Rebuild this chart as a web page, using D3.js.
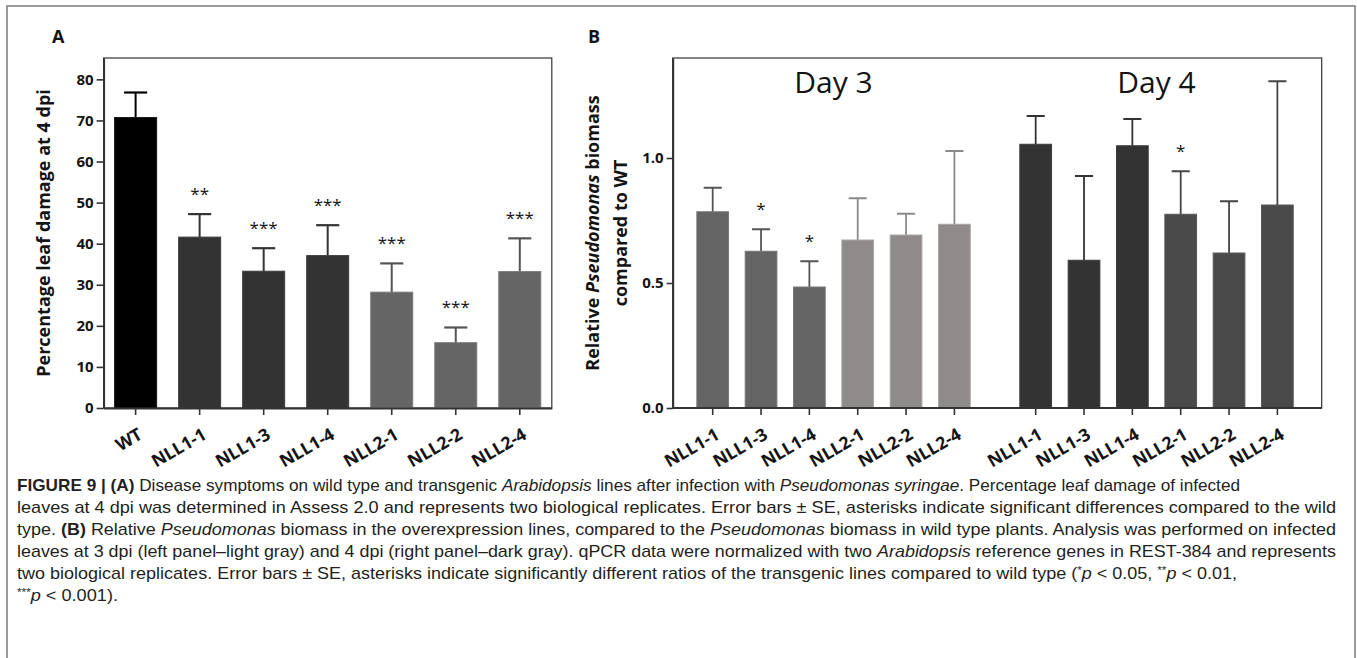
<!DOCTYPE html>
<html>
<head>
<meta charset="utf-8">
<script src="https://cdn.jsdelivr.net/npm/d3@7"></script>
<style>
  body { margin: 0; background: #fff; }
  svg { display: block; }
</style>
</head>
<body>
<svg id="fig" width="1357" height="658"></svg>
<script>
// ---- Panel A: percentage leaf damage at 4 dpi ----
const linesA = ["WT", "NLL1-1", "NLL1-3", "NLL1-4", "NLL2-1", "NLL2-2", "NLL2-4"];
const damageMean  = [70.7, 41.6, 33.3, 37.1, 28.2, 15.9, 33.2];
const damageUpper = [76.8, 47.2, 38.9, 44.5, 35.2, 19.6, 41.3];
const damageStars = ["", "**", "***", "***", "***", "***", "***"];
const damageTicks = [0, 10, 20, 30, 40, 50, 60, 70, 80];

// ---- Panel B: relative Pseudomonas biomass ----
const days = ["Day 3", "Day 4"];
const linesB = ["NLL1-1", "NLL1-3", "NLL1-4", "NLL2-1", "NLL2-2", "NLL2-4"];
const biomassDay3      = [0.785, 0.627, 0.484, 0.672, 0.692, 0.735];
const biomassDay3Upper = [0.881, 0.715, 0.587, 0.839, 0.777, 1.028];
const biomassDay3Stars = ["", "*", "*", "", "", ""];
const biomassDay4      = [1.055, 0.591, 1.049, 0.775, 0.620, 0.812];
const biomassDay4Upper = [1.168, 0.928, 1.156, 0.947, 0.827, 1.307];
const biomassDay4Stars = ["", "", "", "*", "", ""];
const biomassTicks = [0, 0.5, 1.0];

// ---- Caption ----
const captionLines = [
  [["FIGURE 9 | (A)", "b"], [" Disease symptoms on wild type and transgenic ", "r"], ["Arabidopsis", "i"],
   [" lines after infection with ", "r"], ["Pseudomonas syringae", "i"], [". Percentage leaf damage of infected", "r"]],
  [["leaves at 4 dpi was determined in Assess 2.0 and represents two biological replicates. Error bars \u00b1 SE, asterisks indicate significant differences compared to the wild", "r"]],
  [["type. ", "r"], ["(B)", "b"], [" Relative ", "r"], ["Pseudomonas", "i"],
   [" biomass in the overexpression lines, compared to the ", "r"], ["Pseudomonas", "i"],
   [" biomass in wild type plants. Analysis was performed on infected", "r"]],
  [["leaves at 3 dpi (left panel\u2013light gray) and 4 dpi (right panel\u2013dark gray). qPCR data were normalized with two ", "r"],
   ["Arabidopsis", "i"], [" reference genes in REST-384 and represents", "r"]],
  [["two biological replicates. Error bars \u00b1 SE, asterisks indicate significantly different ratios of the transgenic lines compared to wild type (", "r"],
   ["*", "sup"], ["p", "i"], [" < 0.05, ", "r"], ["**", "sup"], ["p", "i"], [" < 0.01,", "r"]],
  [["***", "sup"], ["p", "i"], [" < 0.001).", "r"]]
];
const captionWidths = [1223, 1319, 1319, 1319, 1220, 101];

const svg = d3.select("#fig");
const FONT = "'Open Sans', 'DejaVu Sans', sans-serif";
const INK = "#141414";

// outer figure border
svg.append("rect")
  .attr("x", 7).attr("y", 6).attr("width", 1348).attr("height", 720)
  .attr("fill", "none").attr("stroke", "#7a7a7a").attr("stroke-width", 1.5);

function styleAxis(g, size) {
  g.selectAll("text")
    .attr("font-family", FONT).attr("font-weight", 700)
    .attr("font-size", size).attr("fill", INK);
  g.selectAll(".tick line").attr("stroke", "#333").attr("stroke-width", 1.6);
  g.select(".domain").attr("stroke", "#333").attr("stroke-width", 2);
}

function rotateTickLabels(g) {
  g.selectAll(".tick text")
    .attr("x", 0).attr("y", 0).attr("dy", 0)
    .attr("text-anchor", "end")
    .attr("transform", "translate(8,30) rotate(-30)");
}

function outline(fill) {
  return fill === "#000000" ? "#111" : d3.color(fill).brighter(0.5).formatHex();
}

// ================= Panel A =================
const A = { left: 103.6, right: 551.8, top: 58, bottom: 408 };
const xA = d3.scaleBand().domain(linesA).range([A.left, A.right])
  .paddingInner(0.344).paddingOuter(0.172);
const yA = d3.scaleLinear().domain([0, 85.2]).range([A.bottom, A.top]);

const fillA = l => l === "WT" ? "#000000" : (l.startsWith("NLL1") ? "#333333" : "#656565");
const errA  = l => l === "WT" ? "#000000" : (l.startsWith("NLL1") ? "#333333" : "#555555");

svg.append("text").attr("x", 52).attr("y", 43)
  .attr("font-family", FONT).attr("font-weight", 700).attr("font-size", 18)
  .attr("fill", INK).text("A");

svg.append("rect")
  .attr("x", A.left).attr("y", A.top)
  .attr("width", A.right - A.left).attr("height", A.bottom - A.top)
  .attr("fill", "none").attr("stroke", "#333").attr("stroke-width", 1.2);

const dataA = linesA.map((l, i) => ({ line: l, v: damageMean[i], up: damageUpper[i], star: damageStars[i] }));
const gA = svg.append("g");
const capA = xA.bandwidth() * 0.55;

gA.selectAll("line.err").data(dataA).join("line")
  .attr("x1", d => xA(d.line) + xA.bandwidth() / 2).attr("x2", d => xA(d.line) + xA.bandwidth() / 2)
  .attr("y1", d => yA(d.v)).attr("y2", d => yA(d.up))
  .attr("stroke", d => errA(d.line)).attr("stroke-width", 2);
gA.selectAll("line.cap").data(dataA).join("line")
  .attr("x1", d => xA(d.line) + xA.bandwidth() / 2 - capA / 2)
  .attr("x2", d => xA(d.line) + xA.bandwidth() / 2 + capA / 2)
  .attr("y1", d => yA(d.up)).attr("y2", d => yA(d.up))
  .attr("stroke", d => errA(d.line)).attr("stroke-width", 2.2);
gA.selectAll("rect.bar").data(dataA).join("rect")
  .attr("x", d => xA(d.line)).attr("width", xA.bandwidth())
  .attr("y", d => yA(d.v)).attr("height", d => yA(0) - yA(d.v))
  .attr("fill", d => fillA(d.line))
  .attr("stroke", d => outline(fillA(d.line))).attr("stroke-width", 1);
gA.selectAll("text.star").data(dataA.filter(d => d.star)).join("text")
  .attr("x", d => xA(d.line) + xA.bandwidth() / 2).attr("y", d => yA(d.up) - 14)
  .attr("text-anchor", "middle").attr("font-family", FONT).attr("font-size", 17)
  .attr("fill", INK).text(d => d.star);

const yAxisA = svg.append("g").attr("transform", `translate(${A.left},0)`)
  .call(d3.axisLeft(yA).tickValues(damageTicks).tickSize(7).tickPadding(3).tickSizeOuter(0));
styleAxis(yAxisA, 15);
const xAxisA = svg.append("g").attr("transform", `translate(0,${A.bottom})`)
  .call(d3.axisBottom(xA).tickSize(7).tickSizeOuter(0));
styleAxis(xAxisA, 17.5);
rotateTickLabels(xAxisA);

svg.append("text")
  .attr("transform", `translate(50,${(A.top + A.bottom) / 2}) rotate(-90)`)
  .attr("text-anchor", "middle").attr("font-family", FONT).attr("font-weight", 700)
  .attr("font-size", 18).attr("fill", INK)
  .text("Percentage leaf damage at 4 dpi");

// ================= Panel B =================
const B = { left: 672.7, right: 1321.7, top: 58, bottom: 408 };
const xDay = d3.scaleBand().domain(days).range([B.left, B.right])
  .paddingInner(0.102).paddingOuter(0.0557).align(0.44);
const xB = d3.scaleBand().domain(linesB).range([0, xDay.bandwidth()])
  .paddingInner(0.344).paddingOuter(0.172);
const yB = d3.scaleLinear().domain([0, 1.4]).range([B.bottom, B.top]);

const fillB = {
  "Day 3": l => l.startsWith("NLL1") ? "#646464" : "#8e8b8a",
  "Day 4": l => l.startsWith("NLL1") ? "#333333" : "#4a4a4a"
};
const errB = {
  "Day 3": l => l.startsWith("NLL1") ? "#555555" : "#8a8a8a",
  "Day 4": l => l.startsWith("NLL1") ? "#333333" : "#444444"
};

svg.append("text").attr("x", 588).attr("y", 43)
  .attr("font-family", FONT).attr("font-weight", 700).attr("font-size", 18)
  .attr("fill", INK).text("B");

svg.append("rect")
  .attr("x", B.left).attr("y", B.top)
  .attr("width", B.right - B.left).attr("height", B.bottom - B.top)
  .attr("fill", "none").attr("stroke", "#333").attr("stroke-width", 1.2);

const seriesB = {
  "Day 3": { v: biomassDay3, up: biomassDay3Upper, star: biomassDay3Stars },
  "Day 4": { v: biomassDay4, up: biomassDay4Upper, star: biomassDay4Stars }
};
const capB = xB.bandwidth() * 0.57;

days.forEach(day => {
  const s = seriesB[day];
  const data = linesB.map((l, i) => ({ line: l, v: s.v[i], up: s.up[i], star: s.star[i] }));
  const g = svg.append("g").attr("transform", `translate(${xDay(day)},0)`);
  const cx = d => xB(d.line) + xB.bandwidth() / 2;

  g.selectAll("line.err").data(data).join("line")
    .attr("x1", cx).attr("x2", cx)
    .attr("y1", d => yB(d.v)).attr("y2", d => yB(d.up))
    .attr("stroke", d => errB[day](d.line)).attr("stroke-width", 1.8);
  g.selectAll("line.cap").data(data).join("line")
    .attr("x1", d => cx(d) - capB / 2).attr("x2", d => cx(d) + capB / 2)
    .attr("y1", d => yB(d.up)).attr("y2", d => yB(d.up))
    .attr("stroke", d => errB[day](d.line)).attr("stroke-width", 2);
  g.selectAll("rect.bar").data(data).join("rect")
    .attr("x", d => xB(d.line)).attr("width", xB.bandwidth())
    .attr("y", d => yB(d.v)).attr("height", d => yB(0) - yB(d.v))
    .attr("fill", d => fillB[day](d.line))
    .attr("stroke", d => outline(fillB[day](d.line))).attr("stroke-width", 1);
  g.selectAll("text.star").data(data.filter(d => d.star)).join("text")
    .attr("x", cx).attr("y", d => yB(d.up) - 14)
    .attr("text-anchor", "middle").attr("font-family", FONT).attr("font-size", 17)
    .attr("fill", INK).text(d => d.star);

  g.append("text")
    .attr("x", xDay.bandwidth() / 2).attr("y", 93)
    .attr("text-anchor", "middle").attr("font-family", FONT).attr("font-size", 30)
    .attr("fill", INK).text(day);

  const ax = g.append("g").attr("transform", `translate(0,${B.bottom})`)
    .call(d3.axisBottom(xB).tickSize(7).tickSizeOuter(0));
  styleAxis(ax, 17.5);
  ax.select(".domain").remove();
  rotateTickLabels(ax);
});

// bottom axis line spanning both day groups
svg.append("line")
  .attr("x1", B.left).attr("x2", B.right).attr("y1", B.bottom).attr("y2", B.bottom)
  .attr("stroke", "#333").attr("stroke-width", 2);

const yAxisB = svg.append("g").attr("transform", `translate(${B.left},0)`)
  .call(d3.axisLeft(yB).tickValues(biomassTicks).tickFormat(d3.format(".1f"))
    .tickSize(6).tickPadding(3).tickSizeOuter(0));
styleAxis(yAxisB, 15);

const yLabB = svg.append("text")
  .attr("transform", `translate(0,${(B.top + B.bottom) / 2}) rotate(-90)`)
  .attr("text-anchor", "middle").attr("font-family", FONT).attr("font-weight", 700)
  .attr("font-size", 18).attr("fill", INK);
const l1 = yLabB.append("tspan").attr("x", 0).attr("y", 599);
l1.append("tspan").text("Relative ");
l1.append("tspan").attr("font-style", "italic").text("Pseudomonas");
l1.append("tspan").text(" biomass");
yLabB.append("tspan").attr("x", 0).attr("y", 627).text("compared to WT");

// ================= Caption =================
const CAP_FONT = "'Liberation Sans', Arial, sans-serif";
const capG = svg.append("g");
captionLines.forEach((segs, i) => {
  const t = capG.append("text")
    .attr("x", 17).attr("y", 491 + i * 22)
    .attr("font-family", CAP_FONT).attr("font-size", 17)
    .attr("fill", "#231f20")
    .attr("textLength", captionWidths[i]).attr("lengthAdjust", "spacingAndGlyphs");
  let raised = false;
  segs.forEach(([txt, kind]) => {
    const sp = t.append("tspan").text(txt);
    if (kind === "b") sp.attr("font-weight", 700);
    if (kind === "i") sp.attr("font-style", "italic");
    if (kind === "sup") {
      sp.attr("font-size", 11).attr("dy", -5);
      raised = true;
    } else if (raised) {
      sp.attr("dy", 5);
      raised = false;
    }
  });
});
</script>
</body>
</html>
